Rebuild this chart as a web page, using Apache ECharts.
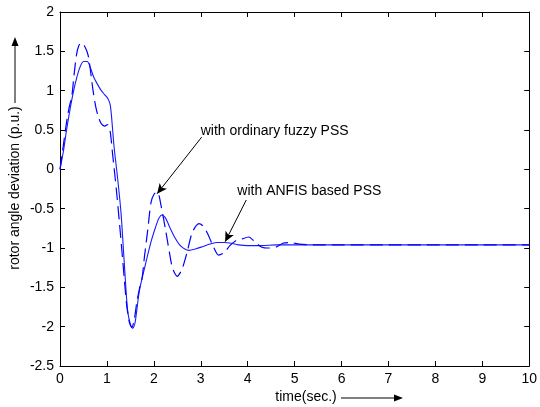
<!DOCTYPE html>
<html>
<head>
<meta charset="utf-8">
<script src="https://cdn.jsdelivr.net/npm/echarts@6/dist/echarts.min.js"></script>
<style>html,body{margin:0;padding:0;background:#fff}#c{width:540px;height:407px}</style>
</head>
<body>
<div id="c"></div>
<script>
// ANFIS based PSS (solid)
const tAnfis = [0,0.07,0.14,0.21,0.28,0.35,0.42,0.5,0.58,0.65,0.72,0.8,0.88,0.95,1.02,1.07,1.1,1.15,1.22,1.3,1.37,1.44,1.5,1.55,1.6,1.69,1.78,1.86,1.95,2.04,2.1,2.17,2.25,2.35,2.45,2.55,2.65,2.75,2.9,3.05,3.2,3.35,3.5,3.65,3.8,4.0,4.3,4.6,5.0,6,7,8,9,10];
const vAnfis = [0,0.22,0.5,0.75,0.97,1.15,1.29,1.37,1.37,1.29,1.17,1.08,1.0,0.95,0.9,0.82,0.66,0.3,-0.07,-0.55,-1.19,-1.79,-1.97,-2.02,-1.95,-1.55,-1.31,-1.11,-0.9,-0.73,-0.63,-0.58,-0.62,-0.75,-0.87,-0.96,-1.01,-1.03,-1.01,-0.98,-0.95,-0.93,-0.93,-0.94,-0.96,-0.97,-0.97,-0.96,-0.96,-0.96,-0.96,-0.96,-0.96,-0.96];
// ordinary fuzzy PSS (dashed)
const tFuzzy = [0,0.07,0.14,0.2,0.25,0.3,0.35,0.4,0.46,0.52,0.6,0.65,0.7,0.76,0.82,0.88,0.95,1.02,1.07,1.12,1.2,1.27,1.35,1.42,1.48,1.53,1.58,1.64,1.7,1.75,1.8,1.87,1.94,2.01,2.08,2.15,2.25,2.33,2.4,2.5,2.6,2.71,2.82,2.96,3.05,3.14,3.26,3.38,3.5,3.62,3.74,3.86,4.02,4.15,4.3,4.45,4.6,4.75,4.9,5.1,5.4,6,7,8,9,10];
const vFuzzy = [0,0.3,0.6,0.8,0.92,1.2,1.45,1.57,1.61,1.57,1.45,1.25,1.02,0.8,0.66,0.58,0.55,0.57,0.48,0.2,-0.25,-0.7,-1.25,-1.72,-1.95,-2.01,-1.92,-1.68,-1.5,-1.38,-1.11,-0.77,-0.42,-0.31,-0.29,-0.45,-0.77,-1.05,-1.26,-1.36,-1.27,-1.05,-0.8,-0.69,-0.72,-0.81,-0.97,-1.09,-1.06,-0.97,-0.91,-0.89,-0.86,-0.92,-0.99,-1.0,-0.99,-0.94,-0.93,-0.95,-0.96,-0.96,-0.96,-0.96,-0.96,-0.96];
const xTicks = [0,1,2,3,4,5,6,7,8,9,10];
const yTicks = [-2.5,-2,-1.5,-1,-0.5,0,0.5,1,1.5,2];
const xLabel = 'time(sec.)';
const yLabel = 'rotor angle deviation (p.u.)';
const noteFuzzy = 'with ordinary fuzzy PSS';
const noteAnfis = 'with ANFIS based PSS';
// annotation anchor points (data coords): text position, arrow start, arrow end
const noteFuzzyPos = [3.0, 0.48], arrowFuzzy = [[3.02,0.41],[2.07,-0.31]];
const noteAnfisPos = [3.78, -0.28], arrowAnfis = [[3.97,-0.39],[3.52,-0.92]];

const FONT = "'Liberation Sans', Arial, sans-serif";
const pair = (t, v) => t.map((x, i) => [x, v[i]]);
const chart = echarts.init(document.getElementById('c'), null, {renderer: 'canvas'});
const axisCommon = {
  type: 'value',
  axisLine: {show: true, onZero: false, lineStyle: {color: '#000', width: 1}},
  axisTick: {show: true, inside: true, length: 5, lineStyle: {color: '#000'}},
  splitLine: {show: false}
};
chart.setOption({
  animation: false,
  backgroundColor: '#fff',
  grid: {left: 60, right: 7, top: 12, bottom: 41},
  xAxis: [
    Object.assign({}, axisCommon, {min: xTicks[0], max: xTicks[xTicks.length-1], interval: 1, position: 'bottom',
      axisLabel: {color: '#000', fontSize: 14, fontFamily: FONT, margin: 6}}),
    Object.assign({}, axisCommon, {min: xTicks[0], max: xTicks[xTicks.length-1], interval: 1, position: 'top', axisLabel: {show: false}})
  ],
  yAxis: [
    Object.assign({}, axisCommon, {min: yTicks[0], max: yTicks[yTicks.length-1], interval: 0.5, position: 'left',
      axisLabel: {color: '#000', fontSize: 14, fontFamily: FONT, margin: 6}}),
    Object.assign({}, axisCommon, {min: yTicks[0], max: yTicks[yTicks.length-1], interval: 0.5, position: 'right', axisLabel: {show: false}})
  ],
  series: [
    {type: 'line', name: 'ANFIS', data: pair(tAnfis, vAnfis), showSymbol: false, smooth: 0.25,
      lineStyle: {color: '#1a1aff', width: 1.1}},
    {type: 'line', name: 'Fuzzy', data: pair(tFuzzy, vFuzzy), showSymbol: false, smooth: 0.25,
      lineStyle: {color: '#0000ff', width: 1.2, type: [13, 6]},
      markLine: {silent: true, symbol: ['none', 'arrow'], symbolSize: [7, 10], label: {show: false},
        lineStyle: {color: '#000', width: 1, type: 'solid'},
        data: [
          [{coord: arrowFuzzy[0]}, {coord: arrowFuzzy[1]}],
          [{coord: arrowAnfis[0]}, {coord: arrowAnfis[1]}]
        ]}}
  ]
});
const p1 = chart.convertToPixel({xAxisIndex: 0, yAxisIndex: 0}, noteFuzzyPos);
const p2 = chart.convertToPixel({xAxisIndex: 0, yAxisIndex: 0}, noteAnfisPos);
const txt = (x, y, s, extra) => Object.assign({type: 'text', x: x, y: y,
  style: Object.assign({text: s, fill: '#000', font: '14px ' + FONT, textVerticalAlign: 'middle'}, extra || {})});
chart.setOption({
  graphic: [
    txt(p1[0], p1[1], noteFuzzy),
    txt(p2[0], p2[1], noteAnfis),
    txt(306, 397, xLabel, {textAlign: 'center'}),
    {type: 'line', shape: {x1: 341, y1: 398, x2: 395, y2: 398}, style: {stroke: '#000', lineWidth: 1}},
    {type: 'polygon', shape: {points: [[403, 398], [394, 394.5], [394, 401.5]]}, style: {fill: '#000'}},
    {type: 'text', x: 15, y: 188, rotation: Math.PI / 2,
      style: {text: yLabel, fill: '#000', font: '14px ' + FONT, textAlign: 'center', textVerticalAlign: 'middle'}},
    {type: 'line', shape: {x1: 15, y1: 103, x2: 15, y2: 45}, style: {stroke: '#000', lineWidth: 1}},
    {type: 'polygon', shape: {points: [[15, 37], [11.5, 46], [18.5, 46]]}, style: {fill: '#000'}}
  ]
});
</script>
</body>
</html>
